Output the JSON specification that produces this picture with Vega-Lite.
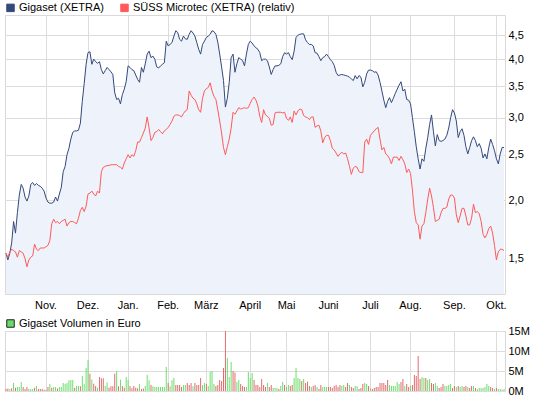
{
"$schema":"https://vega.github.io/schema/vega-lite/v6.json",
"background":"white",
"padding":{"left":3,"top":2,"right":5,"bottom":5},
"bounds":"flush",
"spacing":37,
"config":{
 "font":"Liberation Sans",
 "view":{"stroke":"#d9d9d9"},
 "axis":{"gridColor":"#dcdcdc","gridOpacity":1,"domain":false,"ticks":false,"tickSize":0,"labelFont":"Liberation Sans","labelFontSize":11,"labelColor":"#000000","title":null},
 "legend":{"labelFont":"Liberation Sans","labelFontSize":11,"labelColor":"#000000","labelLimit":300}
},
"datasets":{"px":[
{"d":"2010-10-01","g":1.54,"s":1.54,"v":0.5,"dir":"d"},
{"d":"2010-10-04","g":1.49,"s":1.51,"v":0.6,"dir":"d"},
{"d":"2010-10-05","g":1.54,"s":1.55,"v":0.5,"dir":"u"},
{"d":"2010-10-06","g":1.62,"s":1.57,"v":0.7,"dir":"d"},
{"d":"2010-10-07","g":1.80,"s":1.56,"v":2.0,"dir":"u"},
{"d":"2010-10-08","g":1.70,"s":1.55,"v":0.8,"dir":"d"},
{"d":"2010-10-11","g":1.88,"s":1.51,"v":1.0,"dir":"u"},
{"d":"2010-10-12","g":2.05,"s":1.56,"v":1.0,"dir":"u"},
{"d":"2010-10-13","g":2.16,"s":1.55,"v":2.25,"dir":"u"},
{"d":"2010-10-14","g":2.12,"s":1.54,"v":1.0,"dir":"d"},
{"d":"2010-10-15","g":2.03,"s":1.50,"v":0.5,"dir":"d"},
{"d":"2010-10-18","g":1.99,"s":1.44,"v":1.0,"dir":"d"},
{"d":"2010-10-19","g":2.04,"s":1.49,"v":0.5,"dir":"u"},
{"d":"2010-10-20","g":2.16,"s":1.51,"v":0.5,"dir":"u"},
{"d":"2010-10-21","g":2.18,"s":1.52,"v":0.5,"dir":"u"},
{"d":"2010-10-22","g":2.15,"s":1.61,"v":0.8,"dir":"d"},
{"d":"2010-10-25","g":2.17,"s":1.57,"v":1.25,"dir":"u"},
{"d":"2010-10-26","g":2.15,"s":1.56,"v":0.5,"dir":"d"},
{"d":"2010-10-27","g":2.14,"s":1.58,"v":0.5,"dir":"d"},
{"d":"2010-10-28","g":2.12,"s":1.58,"v":0.5,"dir":"d"},
{"d":"2010-10-29","g":2.09,"s":1.58,"v":0.3,"dir":"d"},
{"d":"2010-11-01","g":2.02,"s":1.59,"v":0.3,"dir":"u"},
{"d":"2010-11-02","g":1.98,"s":1.60,"v":1.0,"dir":"d"},
{"d":"2010-11-03","g":1.97,"s":1.64,"v":1.75,"dir":"u"},
{"d":"2010-11-04","g":1.97,"s":1.78,"v":0.8,"dir":"d"},
{"d":"2010-11-05","g":1.98,"s":1.82,"v":1.0,"dir":"u"},
{"d":"2010-11-08","g":2.03,"s":1.79,"v":1.0,"dir":"u"},
{"d":"2010-11-09","g":1.99,"s":1.80,"v":0.6,"dir":"d"},
{"d":"2010-11-10","g":2.06,"s":1.78,"v":1.0,"dir":"u"},
{"d":"2010-11-11","g":2.13,"s":1.80,"v":1.0,"dir":"u"},
{"d":"2010-11-12","g":2.30,"s":1.81,"v":2.0,"dir":"u"},
{"d":"2010-11-15","g":2.36,"s":1.82,"v":1.75,"dir":"u"},
{"d":"2010-11-16","g":2.50,"s":1.76,"v":2.0,"dir":"u"},
{"d":"2010-11-17","g":2.58,"s":1.79,"v":2.7,"dir":"u"},
{"d":"2010-11-18","g":2.70,"s":1.80,"v":2.75,"dir":"u"},
{"d":"2010-11-19","g":2.79,"s":1.80,"v":2.75,"dir":"u"},
{"d":"2010-11-22","g":2.81,"s":1.79,"v":0.8,"dir":"d"},
{"d":"2010-11-23","g":2.81,"s":1.78,"v":1.25,"dir":"u"},
{"d":"2010-11-24","g":2.82,"s":1.83,"v":1.25,"dir":"u"},
{"d":"2010-11-25","g":2.92,"s":1.90,"v":1.2,"dir":"d"},
{"d":"2010-11-26","g":3.25,"s":1.93,"v":3.75,"dir":"u"},
{"d":"2010-11-29","g":3.55,"s":1.89,"v":1.7,"dir":"u"},
{"d":"2010-11-30","g":3.90,"s":1.94,"v":5.75,"dir":"u"},
{"d":"2010-12-01","g":4.13,"s":2.06,"v":7.75,"dir":"u"},
{"d":"2010-12-02","g":4.15,"s":2.07,"v":4.3,"dir":"d"},
{"d":"2010-12-03","g":3.90,"s":2.09,"v":2.9,"dir":"u"},
{"d":"2010-12-06","g":4.00,"s":2.06,"v":1.8,"dir":"d"},
{"d":"2010-12-07","g":3.95,"s":2.04,"v":1.25,"dir":"d"},
{"d":"2010-12-08","g":3.92,"s":2.09,"v":0.8,"dir":"u"},
{"d":"2010-12-09","g":3.95,"s":2.07,"v":3.5,"dir":"d"},
{"d":"2010-12-10","g":3.80,"s":2.30,"v":3.2,"dir":"d"},
{"d":"2010-12-13","g":3.72,"s":2.35,"v":3.2,"dir":"d"},
{"d":"2010-12-14","g":3.78,"s":2.36,"v":1.25,"dir":"u"},
{"d":"2010-12-15","g":3.84,"s":2.37,"v":2.1,"dir":"u"},
{"d":"2010-12-16","g":3.80,"s":2.37,"v":0.8,"dir":"d"},
{"d":"2010-12-17","g":3.76,"s":2.38,"v":1.2,"dir":"d"},
{"d":"2010-12-20","g":3.71,"s":2.38,"v":1.2,"dir":"d"},
{"d":"2010-12-21","g":3.39,"s":2.38,"v":4.3,"dir":"d"},
{"d":"2010-12-22","g":3.28,"s":2.38,"v":5.0,"dir":"u"},
{"d":"2010-12-23","g":3.30,"s":2.36,"v":1.2,"dir":"d"},
{"d":"2010-12-27","g":3.21,"s":2.35,"v":2.8,"dir":"u"},
{"d":"2010-12-28","g":3.36,"s":2.33,"v":1.25,"dir":"d"},
{"d":"2010-12-29","g":3.45,"s":2.40,"v":0.8,"dir":"d"},
{"d":"2010-12-30","g":3.58,"s":2.45,"v":3.5,"dir":"u"},
{"d":"2011-01-03","g":3.87,"s":2.50,"v":2.8,"dir":"u"},
{"d":"2011-01-04","g":3.84,"s":2.46,"v":1.2,"dir":"d"},
{"d":"2011-01-05","g":3.80,"s":2.50,"v":0.7,"dir":"d"},
{"d":"2011-01-06","g":3.78,"s":2.48,"v":1.25,"dir":"d"},
{"d":"2011-01-07","g":3.70,"s":2.55,"v":0.8,"dir":"d"},
{"d":"2011-01-10","g":3.62,"s":2.66,"v":0.7,"dir":"d"},
{"d":"2011-01-11","g":3.57,"s":2.66,"v":1.7,"dir":"u"},
{"d":"2011-01-12","g":3.84,"s":2.72,"v":0.5,"dir":"d"},
{"d":"2011-01-13","g":3.75,"s":2.78,"v":0.6,"dir":"d"},
{"d":"2011-01-14","g":3.91,"s":2.85,"v":1.25,"dir":"u"},
{"d":"2011-01-17","g":4.10,"s":3.01,"v":4.0,"dir":"u"},
{"d":"2011-01-18","g":4.16,"s":2.85,"v":2.7,"dir":"u"},
{"d":"2011-01-19","g":4.03,"s":2.68,"v":1.5,"dir":"d"},
{"d":"2011-01-20","g":4.06,"s":2.72,"v":1.2,"dir":"u"},
{"d":"2011-01-21","g":4.00,"s":2.79,"v":1.0,"dir":"u"},
{"d":"2011-01-24","g":3.85,"s":2.80,"v":1.0,"dir":"u"},
{"d":"2011-01-25","g":3.83,"s":2.83,"v":1.0,"dir":"u"},
{"d":"2011-01-26","g":3.87,"s":2.80,"v":1.0,"dir":"u"},
{"d":"2011-01-27","g":3.90,"s":2.77,"v":1.0,"dir":"u"},
{"d":"2011-01-28","g":3.93,"s":2.81,"v":1.0,"dir":"u"},
{"d":"2011-01-31","g":4.37,"s":2.83,"v":6.0,"dir":"u"},
{"d":"2011-02-01","g":4.27,"s":2.86,"v":2.0,"dir":"d"},
{"d":"2011-02-02","g":4.30,"s":2.90,"v":1.2,"dir":"u"},
{"d":"2011-02-03","g":4.34,"s":2.95,"v":2.7,"dir":"u"},
{"d":"2011-02-04","g":4.48,"s":3.02,"v":3.3,"dir":"u"},
{"d":"2011-02-07","g":4.60,"s":3.04,"v":1.5,"dir":"d"},
{"d":"2011-02-08","g":4.56,"s":3.04,"v":1.5,"dir":"d"},
{"d":"2011-02-09","g":4.41,"s":3.03,"v":1.5,"dir":"d"},
{"d":"2011-02-10","g":4.37,"s":3.01,"v":1.0,"dir":"d"},
{"d":"2011-02-11","g":4.48,"s":3.06,"v":1.5,"dir":"u"},
{"d":"2011-02-14","g":4.42,"s":3.10,"v":1.5,"dir":"u"},
{"d":"2011-02-15","g":4.41,"s":3.12,"v":2.0,"dir":"d"},
{"d":"2011-02-16","g":4.52,"s":3.42,"v":1.5,"dir":"d"},
{"d":"2011-02-17","g":4.60,"s":3.35,"v":2.0,"dir":"d"},
{"d":"2011-02-18","g":4.55,"s":3.30,"v":1.2,"dir":"u"},
{"d":"2011-02-21","g":4.48,"s":3.28,"v":2.0,"dir":"d"},
{"d":"2011-02-22","g":4.34,"s":3.21,"v":1.5,"dir":"d"},
{"d":"2011-02-23","g":4.20,"s":3.12,"v":1.5,"dir":"d"},
{"d":"2011-02-24","g":4.10,"s":3.08,"v":3.25,"dir":"d"},
{"d":"2011-02-25","g":4.30,"s":3.30,"v":1.5,"dir":"u"},
{"d":"2011-02-28","g":4.37,"s":3.42,"v":2.0,"dir":"u"},
{"d":"2011-03-01","g":4.45,"s":3.46,"v":1.75,"dir":"d"},
{"d":"2011-03-02","g":4.48,"s":3.48,"v":1.25,"dir":"u"},
{"d":"2011-03-03","g":4.52,"s":3.56,"v":4.75,"dir":"u"},
{"d":"2011-03-04","g":4.60,"s":3.42,"v":5.0,"dir":"u"},
{"d":"2011-03-07","g":4.58,"s":3.33,"v":1.75,"dir":"u"},
{"d":"2011-03-08","g":4.52,"s":3.28,"v":1.25,"dir":"d"},
{"d":"2011-03-09","g":4.35,"s":3.12,"v":1.5,"dir":"d"},
{"d":"2011-03-10","g":4.10,"s":2.95,"v":2.75,"dir":"d"},
{"d":"2011-03-11","g":3.85,"s":2.78,"v":2.5,"dir":"d"},
{"d":"2011-03-14","g":3.60,"s":2.59,"v":5.75,"dir":"d"},
{"d":"2011-03-15","g":3.16,"s":2.50,"v":15.0,"dir":"d"},
{"d":"2011-03-16","g":3.30,"s":2.60,"v":8.25,"dir":"u"},
{"d":"2011-03-17","g":3.57,"s":2.70,"v":3.5,"dir":"u"},
{"d":"2011-03-18","g":4.03,"s":2.85,"v":7.25,"dir":"u"},
{"d":"2011-03-21","g":4.10,"s":3.08,"v":5.0,"dir":"d"},
{"d":"2011-03-22","g":3.75,"s":3.05,"v":4.6,"dir":"d"},
{"d":"2011-03-23","g":3.91,"s":3.10,"v":2.25,"dir":"u"},
{"d":"2011-03-24","g":4.03,"s":3.15,"v":2.75,"dir":"u"},
{"d":"2011-03-25","g":4.00,"s":3.13,"v":1.75,"dir":"d"},
{"d":"2011-03-28","g":3.97,"s":3.14,"v":1.25,"dir":"d"},
{"d":"2011-03-29","g":3.87,"s":3.15,"v":1.0,"dir":"d"},
{"d":"2011-03-30","g":4.10,"s":3.14,"v":1.0,"dir":"u"},
{"d":"2011-03-31","g":4.30,"s":3.15,"v":4.75,"dir":"u"},
{"d":"2011-04-01","g":4.37,"s":3.22,"v":3.25,"dir":"u"},
{"d":"2011-04-04","g":4.33,"s":3.28,"v":4.5,"dir":"u"},
{"d":"2011-04-05","g":4.27,"s":3.32,"v":2.75,"dir":"d"},
{"d":"2011-04-06","g":4.23,"s":3.27,"v":1.5,"dir":"d"},
{"d":"2011-04-07","g":4.20,"s":3.18,"v":1.5,"dir":"d"},
{"d":"2011-04-08","g":4.13,"s":3.02,"v":1.0,"dir":"d"},
{"d":"2011-04-11","g":3.97,"s":2.93,"v":3.0,"dir":"d"},
{"d":"2011-04-12","g":4.00,"s":3.12,"v":1.5,"dir":"d"},
{"d":"2011-04-13","g":4.00,"s":3.04,"v":1.0,"dir":"d"},
{"d":"2011-04-14","g":3.97,"s":3.02,"v":2.0,"dir":"u"},
{"d":"2011-04-15","g":3.85,"s":2.99,"v":1.0,"dir":"d"},
{"d":"2011-04-18","g":3.71,"s":2.89,"v":1.5,"dir":"d"},
{"d":"2011-04-19","g":3.80,"s":2.90,"v":0.75,"dir":"u"},
{"d":"2011-04-20","g":3.87,"s":3.07,"v":0.75,"dir":"u"},
{"d":"2011-04-21","g":3.87,"s":3.08,"v":0.75,"dir":"u"},
{"d":"2011-04-26","g":3.88,"s":3.08,"v":0.5,"dir":"d"},
{"d":"2011-04-27","g":3.91,"s":3.08,"v":1.25,"dir":"u"},
{"d":"2011-04-28","g":4.05,"s":3.07,"v":2.25,"dir":"u"},
{"d":"2011-04-29","g":4.13,"s":3.08,"v":1.5,"dir":"d"},
{"d":"2011-05-02","g":4.10,"s":2.99,"v":1.0,"dir":"u"},
{"d":"2011-05-03","g":4.13,"s":2.96,"v":1.5,"dir":"u"},
{"d":"2011-05-04","g":4.05,"s":3.01,"v":1.25,"dir":"d"},
{"d":"2011-05-05","g":3.99,"s":2.93,"v":1.5,"dir":"d"},
{"d":"2011-05-06","g":4.16,"s":3.10,"v":3.25,"dir":"u"},
{"d":"2011-05-09","g":4.45,"s":3.04,"v":5.75,"dir":"u"},
{"d":"2011-05-10","g":4.50,"s":3.10,"v":3.25,"dir":"u"},
{"d":"2011-05-11","g":4.52,"s":3.13,"v":3.0,"dir":"u"},
{"d":"2011-05-12","g":4.53,"s":3.12,"v":2.5,"dir":"d"},
{"d":"2011-05-13","g":4.53,"s":3.03,"v":3.0,"dir":"u"},
{"d":"2011-05-16","g":4.40,"s":3.01,"v":2.0,"dir":"d"},
{"d":"2011-05-17","g":4.34,"s":3.00,"v":2.3,"dir":"d"},
{"d":"2011-05-18","g":4.30,"s":2.97,"v":1.25,"dir":"d"},
{"d":"2011-05-19","g":4.30,"s":3.01,"v":1.0,"dir":"u"},
{"d":"2011-05-20","g":4.27,"s":3.01,"v":1.25,"dir":"d"},
{"d":"2011-05-23","g":4.13,"s":2.86,"v":1.5,"dir":"d"},
{"d":"2011-05-24","g":4.12,"s":2.88,"v":1.0,"dir":"u"},
{"d":"2011-05-25","g":4.05,"s":2.89,"v":0.5,"dir":"d"},
{"d":"2011-05-26","g":3.97,"s":2.81,"v":1.5,"dir":"d"},
{"d":"2011-05-27","g":4.03,"s":2.65,"v":1.0,"dir":"u"},
{"d":"2011-05-30","g":4.05,"s":2.72,"v":1.0,"dir":"u"},
{"d":"2011-05-31","g":4.10,"s":2.75,"v":1.0,"dir":"u"},
{"d":"2011-06-01","g":4.05,"s":2.75,"v":1.0,"dir":"d"},
{"d":"2011-06-02","g":3.99,"s":2.68,"v":1.0,"dir":"d"},
{"d":"2011-06-03","g":3.95,"s":2.58,"v":0.75,"dir":"d"},
{"d":"2011-06-06","g":3.88,"s":2.56,"v":1.25,"dir":"d"},
{"d":"2011-06-07","g":3.75,"s":2.52,"v":1.5,"dir":"d"},
{"d":"2011-06-08","g":3.69,"s":2.48,"v":1.0,"dir":"d"},
{"d":"2011-06-09","g":3.70,"s":2.51,"v":1.5,"dir":"d"},
{"d":"2011-06-10","g":3.71,"s":2.53,"v":1.25,"dir":"u"},
{"d":"2011-06-13","g":3.70,"s":2.51,"v":1.5,"dir":"u"},
{"d":"2011-06-14","g":3.69,"s":2.52,"v":1.0,"dir":"d"},
{"d":"2011-06-15","g":3.68,"s":2.45,"v":2.0,"dir":"d"},
{"d":"2011-06-16","g":3.66,"s":2.36,"v":1.5,"dir":"u"},
{"d":"2011-06-17","g":3.63,"s":2.27,"v":1.0,"dir":"d"},
{"d":"2011-06-20","g":3.60,"s":2.34,"v":0.75,"dir":"d"},
{"d":"2011-06-21","g":3.69,"s":2.36,"v":1.25,"dir":"u"},
{"d":"2011-06-22","g":3.63,"s":2.35,"v":1.2,"dir":"u"},
{"d":"2011-06-23","g":3.69,"s":2.30,"v":0.5,"dir":"d"},
{"d":"2011-06-24","g":3.66,"s":2.29,"v":0.75,"dir":"d"},
{"d":"2011-06-27","g":3.49,"s":2.29,"v":1.75,"dir":"d"},
{"d":"2011-06-28","g":3.57,"s":2.66,"v":2.0,"dir":"u"},
{"d":"2011-06-29","g":3.72,"s":2.70,"v":1.75,"dir":"u"},
{"d":"2011-06-30","g":3.79,"s":2.63,"v":1.25,"dir":"d"},
{"d":"2011-07-01","g":3.79,"s":2.75,"v":0.75,"dir":"u"},
{"d":"2011-07-04","g":3.78,"s":2.78,"v":0.5,"dir":"d"},
{"d":"2011-07-05","g":3.75,"s":2.81,"v":0.75,"dir":"d"},
{"d":"2011-07-06","g":3.76,"s":2.84,"v":1.0,"dir":"d"},
{"d":"2011-07-07","g":3.70,"s":2.86,"v":1.0,"dir":"d"},
{"d":"2011-07-08","g":3.57,"s":2.70,"v":2.0,"dir":"d"},
{"d":"2011-07-11","g":3.42,"s":2.56,"v":2.0,"dir":"d"},
{"d":"2011-07-12","g":3.27,"s":2.59,"v":2.0,"dir":"d"},
{"d":"2011-07-13","g":3.15,"s":2.51,"v":1.5,"dir":"d"},
{"d":"2011-07-14","g":3.25,"s":2.49,"v":2.75,"dir":"d"},
{"d":"2011-07-15","g":3.31,"s":2.45,"v":1.5,"dir":"u"},
{"d":"2011-07-18","g":3.23,"s":2.39,"v":1.25,"dir":"u"},
{"d":"2011-07-19","g":3.30,"s":2.47,"v":1.25,"dir":"u"},
{"d":"2011-07-20","g":3.38,"s":2.47,"v":1.25,"dir":"u"},
{"d":"2011-07-21","g":3.45,"s":2.47,"v":2.25,"dir":"u"},
{"d":"2011-07-22","g":3.52,"s":2.43,"v":1.75,"dir":"u"},
{"d":"2011-07-25","g":3.58,"s":2.48,"v":2.25,"dir":"d"},
{"d":"2011-07-26","g":3.42,"s":2.44,"v":3.0,"dir":"d"},
{"d":"2011-07-27","g":3.45,"s":2.39,"v":1.25,"dir":"u"},
{"d":"2011-07-28","g":3.28,"s":2.29,"v":1.75,"dir":"d"},
{"d":"2011-07-29","g":3.27,"s":2.33,"v":1.0,"dir":"d"},
{"d":"2011-08-01","g":3.21,"s":2.28,"v":1.25,"dir":"u"},
{"d":"2011-08-02","g":3.00,"s":2.10,"v":1.5,"dir":"d"},
{"d":"2011-08-03","g":2.80,"s":1.89,"v":4.0,"dir":"d"},
{"d":"2011-08-04","g":2.60,"s":1.79,"v":3.75,"dir":"d"},
{"d":"2011-08-05","g":2.45,"s":1.77,"v":8.75,"dir":"d"},
{"d":"2011-08-08","g":2.33,"s":1.65,"v":3.0,"dir":"d"},
{"d":"2011-08-09","g":2.45,"s":1.76,"v":3.5,"dir":"u"},
{"d":"2011-08-10","g":2.42,"s":1.78,"v":3.25,"dir":"u"},
{"d":"2011-08-11","g":2.58,"s":1.88,"v":3.25,"dir":"d"},
{"d":"2011-08-12","g":2.72,"s":2.01,"v":2.75,"dir":"u"},
{"d":"2011-08-15","g":2.90,"s":2.12,"v":3.0,"dir":"u"},
{"d":"2011-08-16","g":3.04,"s":2.04,"v":2.0,"dir":"d"},
{"d":"2011-08-17","g":2.80,"s":1.93,"v":1.75,"dir":"d"},
{"d":"2011-08-18","g":2.61,"s":1.80,"v":2.0,"dir":"u"},
{"d":"2011-08-19","g":2.76,"s":1.81,"v":1.25,"dir":"u"},
{"d":"2011-08-22","g":2.68,"s":1.82,"v":0.75,"dir":"d"},
{"d":"2011-08-23","g":2.67,"s":1.88,"v":1.0,"dir":"d"},
{"d":"2011-08-24","g":2.68,"s":1.92,"v":1.75,"dir":"d"},
{"d":"2011-08-25","g":2.70,"s":1.92,"v":1.25,"dir":"u"},
{"d":"2011-08-26","g":2.75,"s":1.93,"v":1.25,"dir":"u"},
{"d":"2011-08-29","g":2.85,"s":2.01,"v":1.5,"dir":"u"},
{"d":"2011-08-30","g":3.00,"s":2.05,"v":1.75,"dir":"u"},
{"d":"2011-08-31","g":3.12,"s":2.05,"v":0.75,"dir":"d"},
{"d":"2011-09-01","g":3.07,"s":2.02,"v":1.25,"dir":"d"},
{"d":"2011-09-02","g":2.95,"s":1.86,"v":1.0,"dir":"u"},
{"d":"2011-09-05","g":2.72,"s":1.79,"v":1.25,"dir":"d"},
{"d":"2011-09-06","g":2.80,"s":1.85,"v":1.0,"dir":"u"},
{"d":"2011-09-07","g":2.84,"s":1.92,"v":1.25,"dir":"u"},
{"d":"2011-09-08","g":2.75,"s":1.92,"v":1.0,"dir":"d"},
{"d":"2011-09-09","g":2.60,"s":1.85,"v":1.25,"dir":"d"},
{"d":"2011-09-12","g":2.51,"s":1.77,"v":1.0,"dir":"u"},
{"d":"2011-09-13","g":2.59,"s":1.77,"v":0.75,"dir":"d"},
{"d":"2011-09-14","g":2.68,"s":1.83,"v":1.25,"dir":"d"},
{"d":"2011-09-15","g":2.73,"s":1.96,"v":1.25,"dir":"u"},
{"d":"2011-09-16","g":2.68,"s":1.88,"v":0.75,"dir":"d"},
{"d":"2011-09-19","g":2.60,"s":1.89,"v":0.5,"dir":"u"},
{"d":"2011-09-20","g":2.64,"s":1.87,"v":0.75,"dir":"u"},
{"d":"2011-09-21","g":2.58,"s":1.80,"v":0.75,"dir":"u"},
{"d":"2011-09-22","g":2.46,"s":1.69,"v":0.75,"dir":"u"},
{"d":"2011-09-23","g":2.51,"s":1.66,"v":1.0,"dir":"u"},
{"d":"2011-09-26","g":2.45,"s":1.69,"v":1.75,"dir":"u"},
{"d":"2011-09-27","g":2.59,"s":1.74,"v":1.25,"dir":"u"},
{"d":"2011-09-28","g":2.70,"s":1.76,"v":1.0,"dir":"d"},
{"d":"2011-09-29","g":2.63,"s":1.70,"v":0.75,"dir":"d"},
{"d":"2011-09-30","g":2.55,"s":1.60,"v":0.5,"dir":"u"},
{"d":"2011-10-03","g":2.45,"s":1.49,"v":0.75,"dir":"d"},
{"d":"2011-10-04","g":2.39,"s":1.55,"v":0.5,"dir":"u"},
{"d":"2011-10-05","g":2.51,"s":1.57,"v":0.5,"dir":"u"},
{"d":"2011-10-06","g":2.59,"s":1.57,"v":0.4,"dir":"u"},
{"d":"2011-10-07","g":2.59,"s":1.56,"v":0.5,"dir":"u"}
]},
"vconcat":[
{
 "width":500,"height":279,
 "data":{"name":"px"},
 "encoding":{
  "x":{"field":"d","type":"ordinal","scale":{"type":"band","paddingInner":0,"paddingOuter":0},
   "axis":{"values":["2010-11-01","2010-12-01","2011-01-03","2011-02-01","2011-03-01","2011-04-01","2011-05-02","2011-06-01","2011-07-01","2011-08-01","2011-09-01","2011-10-03"],
    "labelExpr":"['Jan.','Feb.','März','April','Mai','Juni','Juli','Aug.','Sep.','Okt.','Nov.','Dez.'][toNumber(substring(datum.value,5,7))-1]",
    "labelAngle":0,"labelPadding":5,"grid":true,"labelOverlap":false,"labelFlush":false}}
 },
 "layer":[
  {"mark":{"type":"area","color":"#eef2fa"},
   "encoding":{"y":{"field":"g","type":"quantitative","scale":{"type":"log","domain":[1.26,4.97],"nice":false,"zero":false},
     "axis":{"orient":"right","values":[1.5,2,2.5,3,3.5,4,4.5],"labelExpr":"replace(format(datum.value,'.1f'),'.',',')","labelPadding":3,"grid":true}},
    "y2":{"datum":1.26}}},
  {"transform":[{"fold":["g","s"],"as":["k","val"]}],
   "mark":{"type":"line","strokeWidth":1},
   "encoding":{"y":{"field":"val","type":"quantitative"},
    "color":{"field":"k","type":"nominal","scale":{"domain":["g","s"],"range":["#34497a","#ff5a5a"]},
     "legend":{"orient":"none","legendX":0,"legendY":-13,"direction":"horizontal","title":null,"symbolType":"square","symbolSize":56,"columnPadding":14,"labelOffset":3,
      "labelExpr":"datum.value == 'g' ? 'Gigaset (XETRA)' : 'SÜSS Microtec (XETRA) (relativ)'",
      "encode":{"symbols":{"update":{"fill":[{"test":"datum.value === 'g'","value":"#34497a"},{"value":"#ff5a5a"}],"fillOpacity":{"value":1},"stroke":{"value":"#222222"},"strokeWidth":{"value":1}}}}}}}}
 ]
},
{
 "width":500,"height":60,
 "data":{"name":"px"},
 "mark":{"type":"bar"},
 "encoding":{
  "x":{"field":"d","type":"ordinal","scale":{"type":"band","paddingInner":0.5,"paddingOuter":0.25},
   "axis":{"values":["2010-11-01","2010-12-01","2011-01-03","2011-02-01","2011-03-01","2011-04-01","2011-05-02","2011-06-01","2011-07-01","2011-08-01","2011-09-01","2011-10-03"],"labels":false,"grid":true}},
  "y":{"field":"v","type":"quantitative","scale":{"domain":[0,15],"nice":false},
   "axis":{"orient":"right","values":[0,5,10,15],"labelExpr":"datum.value + 'M'","labelPadding":3,"grid":true}},
  "fill":{"field":"dir","type":"nominal","scale":{"domain":["u","d"],"range":["#66dd66","#e06666"]},
   "legend":{"values":["u"],"orient":"none","legendX":0,"legendY":303,"title":null,"symbolType":"square","symbolSize":56,"labelOffset":3,
    "labelExpr":"'Gigaset Volumen in Euro'",
    "encode":{"symbols":{"update":{"stroke":{"value":"#222222"},"strokeWidth":{"value":1}}}}}}
 }
}
]
}
